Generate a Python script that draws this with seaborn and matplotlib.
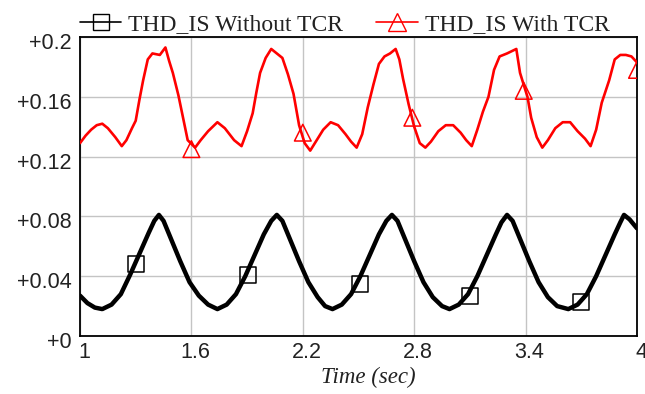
import matplotlib
matplotlib.use("Agg")
import matplotlib.pyplot as plt
import matplotlib.transforms as mtransforms
from matplotlib.lines import Line2D
import seaborn as sns
import pandas as pd

# ---- data ----
t_without = [1.00, 1.04, 1.08, 1.12,
             1.17, 1.22, 1.27, 1.32, 1.37, 1.40, 1.425, 1.45, 1.49, 1.54, 1.59, 1.64, 1.69, 1.74,
             1.79, 1.84, 1.89, 1.94, 1.99, 2.03, 2.06, 2.09, 2.13, 2.18, 2.23, 2.28, 2.32, 2.36,
             2.41, 2.46, 2.51, 2.56, 2.61, 2.65, 2.68, 2.71, 2.75, 2.80, 2.85, 2.90, 2.95, 2.99,
             3.04, 3.09, 3.14, 3.19, 3.24, 3.27, 3.30, 3.33, 3.37, 3.42, 3.47, 3.52, 3.57, 3.63,
             3.68, 3.73, 3.78, 3.83, 3.88, 3.91, 3.93, 3.96, 4.00]
thd_without = [0.027, 0.022, 0.019, 0.018,
               0.021, 0.028, 0.041, 0.055, 0.069, 0.077, 0.081, 0.077, 0.065, 0.050, 0.036, 0.027, 0.021, 0.018,
               0.021, 0.028, 0.040, 0.054, 0.068, 0.077, 0.081, 0.077, 0.065, 0.050, 0.036, 0.026, 0.020, 0.018,
               0.021, 0.028, 0.040, 0.054, 0.068, 0.077, 0.081, 0.077, 0.065, 0.050, 0.036, 0.026, 0.020, 0.018,
               0.021, 0.028, 0.040, 0.054, 0.068, 0.076, 0.081, 0.077, 0.065, 0.050, 0.036, 0.026, 0.020, 0.018,
               0.021, 0.028, 0.040, 0.054, 0.068, 0.076, 0.081, 0.078, 0.072]

t_with = [1.00, 1.03, 1.06, 1.09, 1.12, 1.15, 1.19, 1.225, 1.25, 1.28, 1.30, 1.32, 1.34, 1.365, 1.39,
          1.43, 1.46, 1.48, 1.50, 1.53, 1.56, 1.58, 1.62, 1.65, 1.69, 1.74, 1.78, 1.83, 1.87, 1.90,
          1.93, 1.95, 1.97, 2.00, 2.03, 2.06, 2.09, 2.12, 2.15, 2.18, 2.21, 2.24, 2.27, 2.31, 2.35,
          2.39, 2.43, 2.46, 2.49, 2.52, 2.55, 2.58, 2.61, 2.64, 2.67, 2.70, 2.72, 2.74, 2.77, 2.80,
          2.83, 2.86, 2.89, 2.93, 2.97, 3.01, 3.05, 3.08, 3.11, 3.14, 3.17, 3.20, 3.23, 3.26, 3.30,
          3.35, 3.37, 3.41, 3.43, 3.46, 3.49, 3.52, 3.56, 3.60, 3.64, 3.68, 3.72, 3.75, 3.78, 3.81,
          3.85, 3.88, 3.91, 3.94, 3.97, 4.00]
thd_with = [0.129, 0.134, 0.138, 0.141, 0.142, 0.139, 0.133, 0.127, 0.131, 0.139, 0.144, 0.158, 0.171, 0.185, 0.189,
            0.188, 0.193, 0.184, 0.176, 0.161, 0.143, 0.131, 0.126, 0.131, 0.137, 0.143, 0.139, 0.131, 0.127, 0.137,
            0.149, 0.163, 0.176, 0.186, 0.192, 0.189, 0.186, 0.175, 0.162, 0.141, 0.129, 0.124, 0.130, 0.138, 0.143,
            0.141, 0.135, 0.130, 0.126, 0.135, 0.153, 0.168, 0.182, 0.187, 0.189, 0.192, 0.185, 0.172, 0.155, 0.140,
            0.129, 0.126, 0.130, 0.137, 0.141, 0.141, 0.136, 0.131, 0.127, 0.138, 0.150, 0.160, 0.178, 0.187, 0.189,
            0.192, 0.176, 0.160, 0.146, 0.133, 0.126, 0.131, 0.139, 0.143, 0.143, 0.137, 0.132, 0.127, 0.138, 0.156,
            0.171, 0.185, 0.188, 0.188, 0.187, 0.183]

mark_t_without = [1.30, 1.905, 2.51, 3.10, 3.70]
mark_v_without = [0.048, 0.041, 0.035, 0.027, 0.023]
mark_t_with = [1.60, 2.20, 2.79, 3.39, 4.00]
mark_v_with = [0.125, 0.136, 0.146, 0.164, 0.178]

x_ticks = [1, 1.6, 2.2, 2.8, 3.4, 4]
x_labels = ["1", "1.6", "2.2", "2.8", "3.4", "4"]
y_ticks = [0, 0.04, 0.08, 0.12, 0.16, 0.2]
y_labels = ["+0", "+0.04", "+0.08", "+0.12", "+0.16", "+0.2"]

label_without = "THD_IS Without TCR"
label_with = "THD_IS With TCR"

# ---- styling ----
sns.set_style("white")
plt.rcParams["font.family"] = ["Liberation Sans", "DejaVu Sans"]

fig = plt.figure(figsize=(6.45, 3.94), dpi=100)
ax = fig.add_axes([80 / 645, 1 - 336 / 394, (637 - 80) / 645, (336 - 37) / 394])

df_without = pd.DataFrame({"t": t_without, "v": thd_without})
df_with = pd.DataFrame({"t": t_with, "v": thd_with})

sns.lineplot(data=df_without, x="t", y="v", ax=ax, color="black", linewidth=3.2, zorder=3)
sns.lineplot(data=df_with, x="t", y="v", ax=ax, color="#ff0000", linewidth=1.9, zorder=3)

sns.scatterplot(x=mark_t_without, y=mark_v_without, ax=ax, marker="s", s=11.5 ** 2,
                facecolor="none", edgecolor="black", linewidth=1.1, zorder=4, clip_on=False)
sns.scatterplot(x=mark_t_with, y=mark_v_with, ax=ax, marker="^", s=12 ** 2,
                facecolor="none", edgecolor="#ff0000", linewidth=1.1, zorder=4, clip_on=True)

ax.set_xlim(1, 4)
ax.set_ylim(0, 0.2)
ax.set_xticks(x_ticks)
ax.set_xticklabels(x_labels)
ax.set_yticks(y_ticks)
ax.set_yticklabels(y_labels)
ax.tick_params(axis="both", direction="in", length=8.5, width=1.2, color="black",
               labelsize=15.5, labelcolor="#222222", pad=6)
ax.tick_params(axis="x", pad=4)

ax.grid(True, color="#c4c4c4", linewidth=1.0)
ax.set_axisbelow(True)
for sp in ax.spines.values():
    sp.set_visible(True)
    sp.set_color("black")
    sp.set_linewidth(1.3)

ax.set_ylabel("")
ax.set_xlabel("Time (sec)", fontfamily="Liberation Serif", fontstyle="italic", fontsize=16.5, color="#222222")
ax.xaxis.set_label_coords((368 - 80) / 557, -(367 - 336) / 299)

# tick label offsets as in reference
off_x = mtransforms.ScaledTranslation(0.04, 0, fig.dpi_scale_trans)
for lab in ax.get_xticklabels():
    lab.set_transform(lab.get_transform() + off_x)
off_y = mtransforms.ScaledTranslation(0, -0.04, fig.dpi_scale_trans)
for lab in ax.get_yticklabels():
    lab.set_transform(lab.get_transform() + off_y)

handles = [
    Line2D([], [], color="black", linewidth=1.2, marker="s", markersize=12,
           markerfacecolor="none", markeredgecolor="black"),
    Line2D([], [], color="#ff0000", linewidth=1.2, marker="^", markersize=12.5,
           markerfacecolor="none", markeredgecolor="#ff0000"),
]
leg = ax.legend(handles, [label_without, label_with], loc="lower left", bbox_to_anchor=(0, 1.005),
                ncol=2, frameon=False, borderaxespad=0, borderpad=0, handlelength=1.75,
                handletextpad=0.3, columnspacing=1.4,
                prop={"family": "Liberation Serif", "size": 17})
for txt in leg.get_texts():
    txt.set_color("#222222")

fig.savefig("out.png", dpi=100)
